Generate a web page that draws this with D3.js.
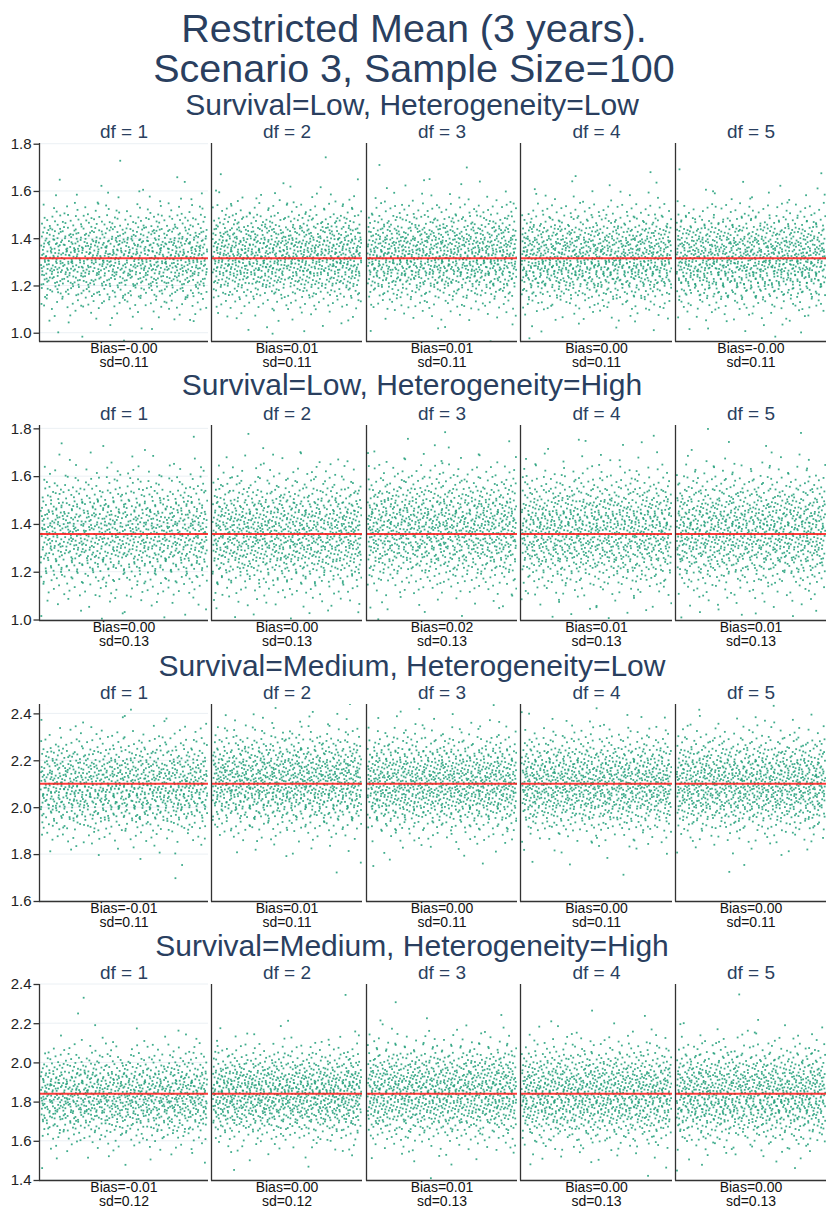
<!DOCTYPE html>
<html>
<head>
<meta charset="utf-8">
<script src="https://cdn.jsdelivr.net/npm/d3@7"></script>
<style>
  body { margin: 0; background: #fff; }
  text { font-family: Arial, "Liberation Sans", sans-serif; }
</style>
</head>
<body>
<svg id="chart" width="828" height="1220"></svg>
<script>
// ---- chart content ----
const titleLines = ["Restricted Mean (3 years).", "Scenario 3, Sample Size=100"];
const rowTitles = [
  "Survival=Low, Heterogeneity=Low",
  "Survival=Low, Heterogeneity=High",
  "Survival=Medium, Heterogeneity=Low",
  "Survival=Medium, Heterogeneity=High"
];
const dfLabels = ["df = 1", "df = 2", "df = 3", "df = 4", "df = 5"];

// true restricted mean per scenario (red reference line)
const trueValues = [1.315, 1.358, 2.10, 1.84];

// y axis ranges and tick values per scenario row
const yRanges = [[0.965, 1.803], [0.998, 1.814], [1.6, 2.44], [1.4, 2.4]];
const yTicks = [
  [1.0, 1.2, 1.4, 1.6, 1.8],
  [1.0, 1.2, 1.4, 1.6, 1.8],
  [1.6, 1.8, 2.0, 2.2, 2.4],
  [1.4, 1.6, 1.8, 2.0, 2.2, 2.4]
];

// summary labels per row (scenario) and column (df)
const biasLabels = [
  ["-0.00", "0.01", "0.01", "0.00", "-0.00"],
  ["0.00", "0.00", "0.02", "0.01", "0.01"],
  ["-0.01", "0.01", "0.00", "0.00", "0.00"],
  ["-0.01", "0.00", "0.01", "0.00", "0.00"]
];
const sdLabels = [
  ["0.11", "0.11", "0.11", "0.11", "0.11"],
  ["0.13", "0.13", "0.13", "0.13", "0.13"],
  ["0.11", "0.11", "0.11", "0.11", "0.11"],
  ["0.12", "0.12", "0.13", "0.13", "0.13"]
];

// replicate estimates, counted in 0.05-wide bins starting at binStart[row]
const binStart = [0.95, 1.00, 1.65, 1.40];
const binWidth = 0.05;

const estLowLow = [
  [2, 6, 17, 42, 81, 129, 169, 179, 155, 110, 63, 30, 11, 4, 1, 1],
  [1, 5, 14, 35, 72, 120, 163, 180, 162, 120, 72, 35, 14, 5, 1, 1],
  [1, 4, 15, 35, 71, 121, 162, 181, 161, 121, 71, 36, 13, 5, 2, 1],
  [1, 6, 16, 41, 80, 128, 170, 178, 156, 112, 64, 31, 11, 4, 2, 0],
  [2, 7, 18, 41, 82, 128, 168, 180, 154, 109, 64, 30, 11, 4, 2, 0]
];
const estLowHigh = [
  [8, 14, 30, 56, 90, 123, 147, 152, 135, 104, 69, 40, 20, 8, 3, 1],
  [7, 15, 29, 57, 89, 124, 146, 153, 134, 105, 68, 41, 19, 9, 2, 1],
  [5, 10, 23, 45, 76, 110, 140, 153, 144, 117, 83, 50, 26, 12, 4, 2],
  [6, 12, 26, 50, 82, 117, 144, 153, 140, 110, 76, 45, 23, 10, 4, 2],
  [7, 12, 25, 51, 83, 116, 145, 152, 141, 109, 77, 44, 24, 9, 3, 2]
];
const estMedLow = [
  [1, 0, 3, 10, 28, 59, 105, 151, 178, 171, 134, 86, 45, 19, 7, 2],
  [0, 1, 2, 7, 19, 45, 86, 134, 171, 178, 151, 105, 59, 28, 10, 3],
  [0, 1, 3, 8, 23, 52, 95, 143, 176, 175, 143, 95, 52, 23, 8, 3],
  [0, 1, 3, 9, 22, 53, 94, 144, 175, 176, 142, 96, 51, 23, 8, 3],
  [0, 1, 2, 8, 24, 51, 96, 142, 176, 174, 144, 94, 53, 22, 9, 3]
];
const estMedHigh = [
  [0, 3, 7, 18, 39, 73, 113, 149, 164, 154, 121, 80, 45, 21, 8, 3, 1, 0, 1, 0],
  [0, 2, 6, 15, 34, 65, 105, 143, 163, 158, 129, 88, 51, 25, 10, 3, 1, 0, 1, 0],
  [1, 2, 7, 17, 35, 62, 97, 129, 149, 149, 129, 97, 62, 35, 17, 7, 3, 0, 1, 0],
  [1, 3, 8, 20, 40, 69, 104, 135, 151, 147, 123, 90, 56, 30, 14, 6, 2, 1, 0, 0],
  [1, 3, 8, 20, 41, 68, 104, 136, 150, 147, 124, 89, 56, 30, 14, 6, 2, 0, 1, 0]
];
const estimates = [estLowLow, estLowHigh, estMedLow, estMedHigh];

// ---- layout ----
const colLeft = [40, 212, 367, 521, 676];
const colRight = [208, 362, 517, 672, 826];
const rowTop = [143, 425, 704, 984];
const rowBottom = [341, 620, 901, 1180];
const rowTitleY = [115, 395, 676, 956];
const titleNavy = "#2a3f5f";
const pointColor = "#1f9e78";

const svg = d3.select("#chart");

svg.append("rect").attr("width", 828).attr("height", 1220).attr("fill", "#fff");

svg.selectAll("text.main-title")
  .data(titleLines)
  .join("text")
  .attr("class", "main-title")
  .attr("x", 414)
  .attr("y", (d, i) => 42 + i * 40)
  .attr("text-anchor", "middle")
  .attr("font-size", 39.5)
  .attr("fill", titleNavy)
  .text(d => d);

// Halton-style radical inverse, used to scatter points evenly inside a bin
function radicalInverse(i, base) {
  let f = 1, r = 0;
  while (i > 0) {
    f /= base;
    r += f * (i % base);
    i = Math.floor(i / base);
  }
  return r;
}

// spread each bin's replicates over the replicate index and within the bin
function layoutReplicates(counts, start, panelKey) {
  const n = d3.sum(counts);
  const pts = [];
  counts.forEach((c, k) => {
    const offset = 1 + k * 211 + panelKey * 3301;
    for (let j = 0; j < c; j++) {
      const u = radicalInverse(offset + j, 2);
      const v = radicalInverse(offset + j, 3);
      pts.push({ rep: u * n, value: start + (k + v) * binWidth });
    }
  });
  return { n, pts };
}

const defs = svg.append("defs");

rowTitles.forEach((rowTitle, r) => {
  const top = rowTop[r], bottom = rowBottom[r];

  svg.append("text")
    .attr("x", 412)
    .attr("y", rowTitleY[r])
    .attr("text-anchor", "middle")
    .attr("font-size", 30)
    .attr("fill", titleNavy)
    .text(rowTitle);

  const y = d3.scaleLinear().domain(yRanges[r]).range([bottom, top]);

  dfLabels.forEach((dfLabel, c) => {
    const left = colLeft[c], right = colRight[c];
    const { n, pts } = layoutReplicates(estimates[r][c], binStart[r], r * 5 + c);
    const x = d3.scaleLinear().domain([-4, n + 4]).range([left, right]);

    const g = svg.append("g");
    const clipId = `clip-${r}-${c}`;
    defs.append("clipPath").attr("id", clipId)
      .append("rect")
      .attr("x", left).attr("y", top)
      .attr("width", right - left).attr("height", bottom - top);

    // horizontal grid on the first column only
    if (c === 0) {
      g.append("g")
        .selectAll("line")
        .data(yTicks[r])
        .join("line")
        .attr("x1", left).attr("x2", right)
        .attr("y1", d => y(d)).attr("y2", d => y(d))
        .attr("stroke", "#ebf0f4")
        .attr("stroke-width", 1);
    }

    g.append("g")
      .attr("clip-path", `url(#${clipId})`)
      .selectAll("rect")
      .data(pts)
      .join("rect")
      .attr("x", d => x(d.rep) - 0.9)
      .attr("y", d => y(d.value) - 0.9)
      .attr("width", 1.8)
      .attr("height", 1.8)
      .attr("fill", pointColor)
      .attr("fill-opacity", 0.85);

    g.append("line")
      .attr("x1", left).attr("x2", right)
      .attr("y1", y(trueValues[r])).attr("y2", y(trueValues[r]))
      .attr("stroke", "#ff1a1a")
      .attr("stroke-opacity", 0.85)
      .attr("stroke-width", 2);

    // axis lines
    g.append("line")
      .attr("x1", left - 0.5).attr("x2", left - 0.5)
      .attr("y1", top).attr("y2", bottom + 0.5)
      .attr("stroke", "#333").attr("stroke-width", 1.3);
    g.append("line")
      .attr("x1", left - 1).attr("x2", right)
      .attr("y1", bottom + 0.5).attr("y2", bottom + 0.5)
      .attr("stroke", "#333").attr("stroke-width", 1.3);

    if (c === 0) {
      const axis = d3.axisLeft(y)
        .tickValues(yTicks[r])
        .tickFormat(d3.format(".1f"))
        .tickSize(6)
        .tickPadding(2);
      const ag = g.append("g")
        .attr("transform", `translate(${left - 0.5},0)`)
        .call(axis);
      ag.select(".domain").remove();
      ag.selectAll(".tick line").attr("stroke", "#333").attr("stroke-width", 1.3);
      ag.selectAll(".tick text")
        .attr("font-size", 15)
        .attr("font-family", 'Arial, "Liberation Sans", sans-serif')
        .attr("fill", "#222");
    }

    const cx = (left + right) / 2;
    svg.append("text")
      .attr("x", cx)
      .attr("y", top - 5)
      .attr("text-anchor", "middle")
      .attr("font-size", 19)
      .attr("fill", titleNavy)
      .text(dfLabel);

    svg.append("text")
      .attr("x", cx)
      .attr("y", bottom + 12)
      .attr("text-anchor", "middle")
      .attr("font-size", 14)
      .attr("fill", "#111")
      .text(`Bias=${biasLabels[r][c]}`);
    svg.append("text")
      .attr("x", cx)
      .attr("y", bottom + 26)
      .attr("text-anchor", "middle")
      .attr("font-size", 14)
      .attr("fill", "#111")
      .text(`sd=${sdLabels[r][c]}`);
  });
});
</script>
</body>
</html>
